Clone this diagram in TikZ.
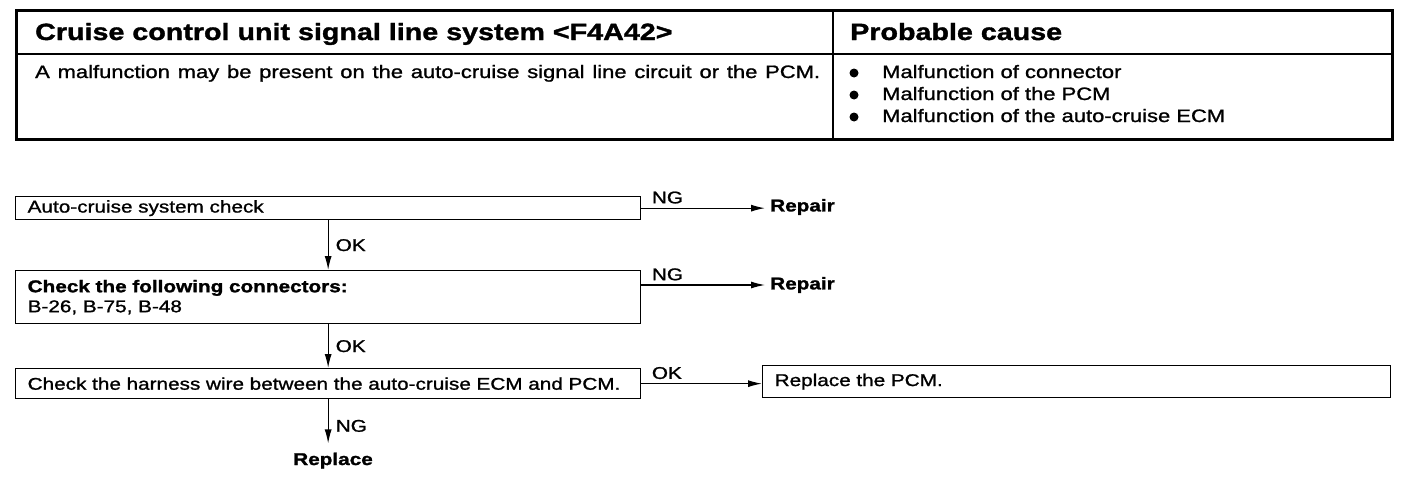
\documentclass[tikz,border=0pt]{standalone}
\usepackage{fontspec}
\setmainfont{Liberation Sans}[FakeStretch=1.22, FakeBold=1.2, BoldFeatures={FakeBold=1.5}]
\usepackage{tikz}
\usetikzlibrary{arrows.meta, positioning}

\tikzset{
    chkbox/.style={draw, line width=1.3pt, anchor=north west, minimum width=625pt,
        text width=601pt, inner xsep=12pt, inner ysep=2pt, align=left,
        font=\fontsize{17}{20}\selectfont},
    flow/.style={line width=1.2pt, -{Latex[length=14pt,width=7pt]}},
    lbl/.style={font=\fontsize{17}{20}\selectfont, inner sep=0pt},
    res/.style={font=\bfseries\fontsize{17}{20}\selectfont, inner sep=0pt},
    tbl/.style={font=\fontsize{18}{22}\selectfont, inner sep=0pt, anchor=base west},
}

\begin{document}
\begin{tikzpicture}[x=1pt, y=-1pt]
    \useasboundingbox (0,0) rectangle (1408,482);
    % table
    \draw[line width=3pt] (16,10) rectangle (1392,139);
    \draw[line width=1.6pt] (16,54) -- (1392,54);
    \draw[line width=1.6pt] (833,10) -- (833,139);
    \node[tbl, font=\bfseries\fontsize{23.5}{28}\selectfont] (ttl) at (35,40) {Cruise control unit signal line system <F4A42>};
    \node[tbl, font=\bfseries\fontsize{23.5}{28}\selectfont] (cause) at (850,40) {Probable cause};
    \node[tbl] (dsc) at (35,78) {\makebox[785pt][s]{A malfunction may be present on the auto-cruise signal line circuit or the PCM.}};
    \foreach \txt [count=\i] in {Malfunction of connector, Malfunction of the PCM, Malfunction of the auto-cruise ECM} {
        \fill (854,51+22*\i) circle (4.5pt);
        \node[tbl] (cause\i) at (882,56+22*\i) {\txt};
    }

    % flow chart
    \node[chkbox, minimum height=23pt] (chk1) at (15,196) {Auto-cruise system check};
    \node[chkbox, minimum height=53pt] (chk2) at (15,270) {\textbf{Check the following connectors:}\\B-26, B-75, B-48};
    \node[chkbox, minimum height=30pt] (chk3) at (15,368) {Check the harness wire between the auto-cruise ECM and PCM.};
    \node[chkbox, minimum width=628pt, text width=604pt, minimum height=32pt] (fix) at (762,365) {Replace the PCM.};
    \node[res, anchor=west] (rep1) at (770,207) {Repair};
    \node[res, anchor=west] (rep2) at (770,285) {Repair};
    \node[res, anchor=base] (repl) at (333,465) {Replace};

    \draw[flow, shorten >=5pt] (chk1.east) -- (chk1.east -| rep1.west)
        node[lbl, at start, anchor=south west, xshift=10pt, yshift=4pt] {NG};
    \draw[flow, shorten >=5pt] (chk2.north east |- rep2.west) -- (rep2.west)
        node[lbl, at start, anchor=south west, xshift=10pt, yshift=4pt] {NG};
    \draw[flow] (chk3.east) -- (chk3.east -| fix.west)
        node[lbl, at start, anchor=south west, xshift=10pt, yshift=4pt] {OK};
    \draw[flow] (chk1.south) -- (chk2.north) node[lbl, midway, right=7pt] {OK};
    \draw[flow] (chk2.south) -- (chk3.north) node[lbl, midway, right=7pt] {OK};
    \draw[flow, shorten >=9pt] (chk3.south) -- (repl.north -| chk3.south) node[lbl, midway, right=7pt] {NG};
\end{tikzpicture}
\end{document}
